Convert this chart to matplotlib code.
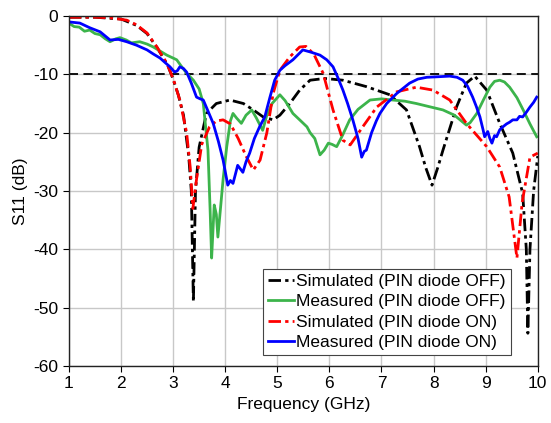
import matplotlib
matplotlib.use("Agg")
import matplotlib.pyplot as plt

plt.rcParams['font.family'] = ['Liberation Sans', 'DejaVu Sans']
plt.rcParams['axes.unicode_minus'] = False

# Simulated (PIN diode OFF)
sim_off_f = [1.0, 1.5, 2.0, 2.3, 2.5, 2.7, 2.9, 3.0, 3.1, 3.2, 3.3, 3.35, 3.39, 3.43, 3.5, 3.64,
             3.83, 4.09, 4.35, 4.54, 4.73, 4.92, 5.05, 5.24, 5.43, 5.63, 5.91, 6.26, 6.71,
             7.16, 7.48, 7.73, 7.85, 7.97, 8.08, 8.18, 8.44, 8.63, 8.79, 9.02, 9.27, 9.52,
             9.71, 9.78, 9.81, 9.85, 9.92, 10.0]
sim_off_s = [-0.2, -0.2, -0.5, -1.6, -3.0, -5.5, -8.5, -10.8, -13.5, -17, -24, -30, -49, -30,
             -22.5, -16.7, -15, -14.4, -15, -16.1, -17.3, -17.8, -17, -15, -12.7, -11, -10.7,
             -11, -12.1, -13.5, -16.1, -22.4, -26, -29, -26, -23, -15.6, -11.5, -10.3, -12.7,
             -18.4, -23.5, -30.4, -40, -54.4, -40, -30, -24]

# Measured (PIN diode OFF)
meas_off_f = [1.0, 1.1, 1.2, 1.3, 1.4, 1.5, 1.6, 1.7, 1.79, 1.9, 1.98, 2.1, 2.2, 2.36, 2.5,
              2.62, 2.75, 2.88, 3.0, 3.07, 3.15, 3.26, 3.39, 3.5, 3.58, 3.67, 3.71, 3.74, 3.77,
              3.79, 3.83, 3.86, 3.91, 3.96, 4.03, 4.1, 4.15, 4.22, 4.31, 4.4, 4.51, 4.6, 4.72,
              4.8, 4.9, 5.05, 5.15, 5.3, 5.43, 5.57, 5.63, 5.72, 5.82, 5.9, 5.98, 6.05, 6.14,
              6.25, 6.39, 6.55, 6.78, 7.0, 7.22, 7.45, 7.67, 7.9, 8.18, 8.4, 8.63, 8.7, 8.83,
              8.95, 9.08, 9.17, 9.27, 9.36, 9.46, 9.6, 9.72, 9.85, 9.98]
meas_off_s = [-1.2, -1.8, -1.9, -2.6, -2.4, -3.0, -3.2, -3.9, -4.4, -3.9, -3.7, -4.1, -4.6, -4.4,
              -4.8, -5.3, -6.0, -6.7, -7.2, -7.5, -8.5, -9.8, -11, -12.5, -15, -23, -33, -41.5,
              -36, -32.4, -34, -37.9, -33, -28, -22.4, -18, -16.7, -17.5, -18.4, -17, -16.1,
              -17.5, -19.6, -17, -15, -13.5, -14.5, -16.7, -17.8, -19, -20, -21, -23.8, -23,
              -21.8, -22, -22.4, -20.5, -17.8, -16, -14.4, -14.2, -14.4, -14.6, -15, -15.5,
              -16.1, -17, -18.7, -18.3, -16.7, -14.5, -12.2, -11.2, -11, -11.3, -12.2, -14,
              -16.1, -18.5, -20.7]

# Simulated (PIN diode ON)
sim_on_f = [1.0, 1.5, 1.8, 2.11, 2.3, 2.5, 2.69, 2.88, 3.0, 3.13, 3.26, 3.33, 3.38, 3.45, 3.55,
            3.7, 3.83, 3.96, 4.1, 4.25, 4.4, 4.54, 4.67, 4.8, 4.92, 5.05, 5.24, 5.43, 5.55, 5.7,
            5.88, 6.07, 6.26, 6.4, 6.64, 6.91, 7.29, 7.67, 7.99, 8.31, 8.63, 9.02, 9.27, 9.45,
            9.6, 9.7, 9.85, 10.0]
sim_on_s = [-0.2, -0.2, -0.3, -0.7, -1.5, -2.9, -5.3, -8.1, -10.7, -14.4, -20, -26, -33, -28,
            -22, -19, -18, -17.8, -18.5, -21, -24, -26.4, -24.7, -20, -13.3, -9.3, -7, -5.3,
            -5.2, -6.5, -9.8, -16.1, -21.3, -22.1, -19, -15.6, -13, -12.2, -12.7, -14.4, -18.4,
            -22.4, -25.9, -31, -41.5, -32, -24.2, -23.5]

# Measured (PIN diode ON)
meas_on_f = [1.0, 1.21, 1.4, 1.6, 1.79, 1.95, 2.11, 2.3, 2.5, 2.62, 2.75, 2.85, 2.94, 3.03,
             3.08, 3.13, 3.2, 3.26, 3.35, 3.45, 3.52, 3.58, 3.68, 3.77, 3.87, 3.96, 4.05, 4.1,
             4.15, 4.2, 4.24, 4.29, 4.34, 4.4, 4.47, 4.56, 4.66, 4.76, 4.86, 4.95, 5.05, 5.15,
             5.3, 5.49, 5.65, 5.82, 5.95, 6.07, 6.16, 6.26, 6.35, 6.45, 6.55, 6.62, 6.67, 6.71,
             6.76, 6.81, 6.9, 6.97, 7.1, 7.29, 7.4, 7.54, 7.7, 7.87, 8.1, 8.31, 8.45, 8.56,
             8.65, 8.75, 8.82, 8.89, 8.95, 8.98, 9.04, 9.08, 9.12, 9.17, 9.21, 9.27, 9.33, 9.4,
             9.46, 9.52, 9.6, 9.65, 9.71, 9.78, 9.85, 9.92, 9.98]
meas_on_s = [-1, -1.2, -2.0, -2.7, -4.1, -4.0, -4.4, -5.0, -5.8, -6.5, -7.2, -8.0, -8.7, -9.6,
             -9.4, -8.7, -9.0, -9.6, -11.5, -13.9, -14.2, -14.4, -16.5, -18.4, -21.5, -24.7,
             -29, -28.2, -28.7, -27, -25.6, -26.2, -26.8, -25, -23.5, -21, -19, -17.3, -13.9,
             -11, -9.3, -8.5, -7.5, -5.8, -6.2, -6.7, -7.5, -8.7, -10.5, -12.7, -15, -17.8, -21,
             -24.2, -23.2, -23, -21.5, -20, -18, -16.7, -15, -13.3, -12.5, -11.5, -10.8, -10.5,
             -10.4, -10.3, -10.5, -11, -12, -13.9, -15.5, -17.3, -19.5, -20.7, -19.8, -21, -21.8,
             -20.5, -20.7, -19.5, -19, -18.5, -18.2, -17.8, -17.8, -17.2, -17.3, -16.5, -15.6,
             -14.8, -13.9]

x_ticks = [1, 2, 3, 4, 5, 6, 7, 8, 9, 10]
y_ticks = [0, -10, -20, -30, -40, -50, -60]
threshold = -10

fig = plt.figure(figsize=(5.51, 4.23), dpi=100)
ax = fig.add_axes([0.125, 0.135, 0.851, 0.827])

ax.axhline(threshold, color='black', lw=1.3, ls=(0, (5, 3)), zorder=2)

dashdot = (0, (4.5, 1.5, 1.2, 1.5))
ax.plot(sim_off_f, sim_off_s, color='black', lw=2.0, ls=dashdot, label='Simulated (PIN diode OFF)')
ax.plot(meas_off_f, meas_off_s, color='#3cb44b', lw=2.0, label='Measured (PIN diode OFF)')
ax.plot(sim_on_f, sim_on_s, color='red', lw=2.0, ls=dashdot, label='Simulated (PIN diode ON)')
ax.plot(meas_on_f, meas_on_s, color='blue', lw=2.0, label='Measured (PIN diode ON)')

ax.set_xlim(1, 10)
ax.set_ylim(-60, 0)
ax.set_xticks(x_ticks)
ax.set_yticks(y_ticks)
ax.grid(True, color='#c8c8c8', lw=1.0, zorder=0)
ax.set_axisbelow(True)
ax.tick_params(axis='both', direction='out', length=4, labelsize=12.5)
for sp in ax.spines.values():
    sp.set_color('#222222')
    sp.set_linewidth(1.0)

ax.set_xlabel('Frequency (GHz)', fontsize=12.5)
ax.set_ylabel('S11 (dB)', fontsize=12.5)

leg = ax.legend(loc='lower right', bbox_to_anchor=(0.942, 0.03), fontsize=12.5,
                handlelength=1.5, handletextpad=0.1, labelspacing=0.3,
                borderpad=0.3, borderaxespad=0, fancybox=False, framealpha=1,
                edgecolor='#444444')
leg.get_frame().set_linewidth(0.8)

plt.savefig('out.png', dpi=100)
